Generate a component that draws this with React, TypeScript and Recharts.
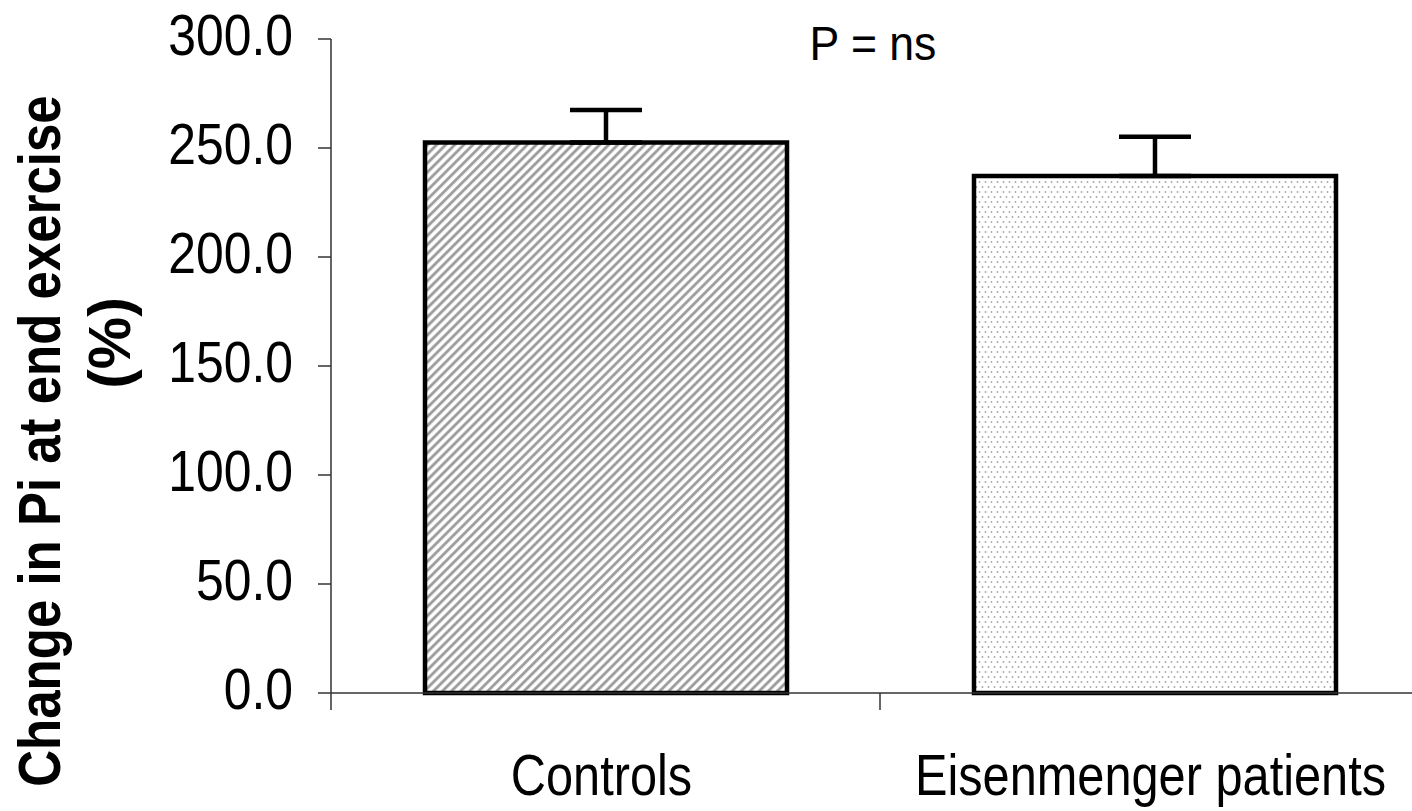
import React from 'react';
import { BarChart, Bar, XAxis, YAxis, ErrorBar, Cell } from 'recharts';

const groups = ['Controls', 'Eisenmenger patients'];
const changePct = [252.5, 237.2];
const semUp = [14.9, 18.0];
const yTicks = [0, 50, 100, 150, 200, 250, 300];
const fills = ['url(#hatchGrey)', 'url(#dotGrey)'];

const data = groups.map((g, i) => ({ group: g, value: changePct[i], err: [0, semUp[i]] }));

const FONT = '"Liberation Sans", Arial, Helvetica, sans-serif';

// tick labels in the source are a narrowed Arial, so squeeze horizontally
const YTick = (props: any) => {
  const { x, y, payload } = props;
  return (
    <g transform={`translate(${x - 25},${y + 16}) scale(0.86,1)`}>
      <text x={0} y={0} textAnchor="end" fontFamily={FONT} fontSize={58} fill="#000">
        {Number(payload.value).toFixed(1)}
      </text>
    </g>
  );
};

const XTick = (props: any) => {
  const { x, y, payload, width, visibleTicksCount, index } = props;
  const half = payload.offset || width / visibleTicksCount / 2;
  const last = index === visibleTicksCount - 1;
  return (
    <g>
      <line x1={x - half} x2={x - half} y1={y} y2={y + 17} stroke="#333" strokeWidth={1.5} />
      {last && <line x1={x + half} x2={x + half} y1={y} y2={y + 17} stroke="#333" strokeWidth={1.5} />}
      <g transform={`translate(${x - 4},${y + 102}) scale(0.84,1)`}>
        <text x={0} y={0} textAnchor="middle" fontFamily={FONT} fontSize={58} fill="#000">
          {payload.value}
        </text>
      </g>
    </g>
  );
};

const Titles = () => (
  <g>
    <g transform="translate(60,441) rotate(-90) scale(0.85,1)">
      <text x={0} y={0} textAnchor="middle" fontFamily={FONT} fontWeight="bold" fontSize={60} fill="#000">
        Change in Pi at end exercise
      </text>
    </g>
    <g transform="translate(130,343) rotate(-90) scale(0.98,1)">
      <text x={0} y={0} textAnchor="middle" fontFamily={FONT} fontWeight="bold" fontSize={60} fill="#000">
        (%)
      </text>
    </g>
    <g transform="translate(873,60) scale(0.91,1)">
      <text x={0} y={0} textAnchor="middle" fontFamily={FONT} fontSize={49} fill="#000">
        P = ns
      </text>
    </g>
  </g>
);

export default function App() {
  return (
    <div style={{ position: 'absolute', left: 0, top: 0, width: 1450, height: 811, overflow: 'hidden' }}>
      <svg width={0} height={0} style={{ position: 'absolute' }}>
        <defs>
          <pattern id="hatchGrey" width={6.4} height={6.4} patternUnits="userSpaceOnUse" patternTransform="rotate(45)">
            <rect width={6.4} height={6.4} fill="#fff" />
            <line x1={1.6} y1={0} x2={1.6} y2={6.4} stroke="#9a9a9a" strokeWidth={2.8} />
          </pattern>
          <pattern id="dotGrey" width={6} height={10} patternUnits="userSpaceOnUse">
            <rect width={6} height={10} fill="#fff" />
            <circle cx={1.5} cy={2} r={0.9} fill="#a8a8a8" />
            <circle cx={4.5} cy={7} r={0.9} fill="#a8a8a8" />
          </pattern>
        </defs>
      </svg>
      <BarChart
        width={1450}
        height={811}
        data={data}
        margin={{ top: 39, right: 21, bottom: 0, left: 0 }}
      >
        <XAxis
          dataKey="group"
          height={118}
          axisLine={{ stroke: '#333', strokeWidth: 1.5 }}
          tickLine={false}
          tickSize={0}
          tickMargin={0}
          interval={0}
          tick={<XTick />}
        />
        <YAxis
          width={331}
          domain={[0, 300]}
          ticks={yTicks}
          interval={0}
          axisLine={{ stroke: '#333', strokeWidth: 1.5 }}
          tickLine={{ stroke: '#333', strokeWidth: 1.5 }}
          tickSize={13}
          tickMargin={0}
          tick={<YTick />}
          label={{ content: () => <Titles /> }}
        />
        <Bar dataKey="value" barSize={362} stroke="#000" strokeWidth={4.5} isAnimationActive={false}>
          {data.map((d, i) => (
            <Cell key={d.group} fill={fills[i]} />
          ))}
          <ErrorBar dataKey="err" direction="y" width={36} stroke="#000" strokeWidth={4.5} />
        </Bar>
      </BarChart>
    </div>
  );
}
